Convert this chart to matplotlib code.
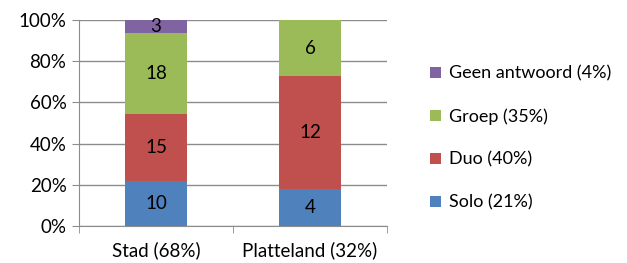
import numpy as np
import matplotlib.pyplot as plt
from matplotlib.patches import Patch

plt.rcParams['font.family'] = ['Lato', 'DejaVu Sans']

# data
categories = ['Stad (68%)', 'Platteland (32%)']
series_names = ['Solo (21%)', 'Duo (40%)', 'Groep (35%)', 'Geen antwoord (4%)']
solo = [10, 4]
duo = [15, 12]
groep = [18, 6]
geen = [3, 0]
colors = ['#4F81BD', '#C0504D', '#9BBB59', '#8064A2']

counts = np.array([solo, duo, groep, geen], dtype=float)
totals = counts.sum(axis=0)
shares = counts / totals * 100

fs = 13.5

fig = plt.figure(figsize=(6.27, 2.63), dpi=100)
ax = fig.add_axes([79 / 627, 37 / 263, 308 / 627, 206 / 263])

x = np.arange(len(categories))
bottom = np.zeros(len(categories))
for i in range(len(series_names)):
    ax.bar(x, shares[i], 0.4, bottom=bottom, color=colors[i], zorder=3)
    for j in range(len(categories)):
        if counts[i, j] > 0:
            ax.text(x[j], bottom[j] + shares[i, j] / 2, f'{int(counts[i, j])}',
                    ha='center', va='center', fontsize=fs, zorder=4)
    bottom += shares[i]

ax.set_xlim(-0.5, 1.5)
ax.set_ylim(0, 100)
ax.set_yticks(np.arange(0, 101, 20))
ax.set_yticklabels([f'{v}%' for v in range(0, 101, 20)], fontsize=fs)
ax.yaxis.grid(True, color='#8C8C8C', linewidth=1, zorder=0)
ax.set_xticks(x)
ax.set_xticklabels(categories, fontsize=fs)
ax.tick_params(axis='x', length=0, pad=11)
ax.set_xticks([-0.5, 0.5, 1.5], minor=True)
ax.tick_params(axis='x', which='minor', length=5, color='#8C8C8C', direction='out')
ax.tick_params(axis='y', length=5, color='#8C8C8C', direction='out', pad=4)
for side in ['top', 'right']:
    ax.spines[side].set_visible(False)
ax.spines['left'].set_color('#8C8C8C')
ax.spines['bottom'].set_color('#8C8C8C')

handles = [Patch(facecolor=colors[i], label=series_names[i]) for i in range(len(series_names))][::-1]
fig.legend(handles=handles, loc='center left', bbox_to_anchor=(414 / 627, 0.475),
           frameon=False, fontsize=13, handlelength=0.6, handleheight=0.6,
           labelspacing=1.48, handletextpad=0.45)

fig.savefig('out.png', dpi=100)
